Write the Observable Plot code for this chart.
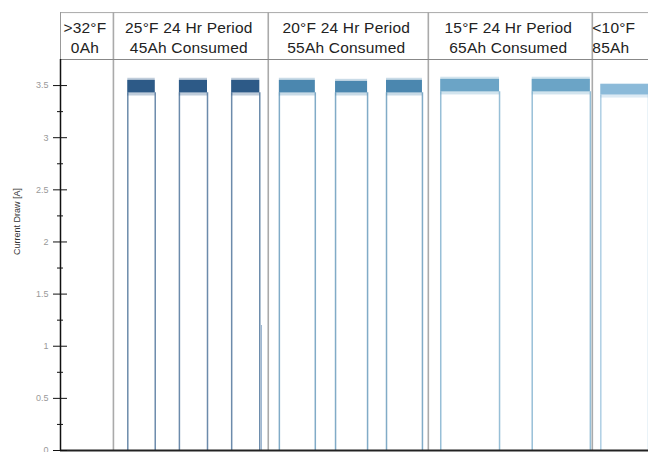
<!DOCTYPE html>
<html>
<head>
<meta charset="utf-8">
<script src="https://cdn.jsdelivr.net/npm/d3@7"></script>
<script src="https://cdn.jsdelivr.net/npm/@observablehq/plot@0.6"></script>
<style>
  html, body { margin: 0; padding: 0; background: #fff; }
  #chart { width: 648px; height: 452px; }
</style>
</head>
<body>
<div id="chart"></div>
<script>
// ---- data (x in hours, y in amperes) ----
const boundaries = [0, 8.1, 31.8, 56.3, 81.4];      // start of each temperature period
const periodTemps = [">32°F", "25°F 24 Hr Period", "20°F 24 Hr Period", "15°F 24 Hr Period", "<10°F"];
const periodAh = ["0Ah", "45Ah Consumed", "55Ah Consumed", "65Ah Consumed", "85Ah"];

const pulseStart  = [10.3, 18.2, 26.2, 33.5, 42.1, 49.9, 58.2, 72.2, 82.7];
const pulseEnd    = [14.5, 22.5, 30.5, 39.0, 47.0, 55.4, 67.2, 81.1, 90.0];
const pulsePeriod = [1, 1, 1, 2, 2, 2, 3, 3, 4];
const pulseLow    = [3.43, 3.43, 3.43, 3.43, 3.43, 3.43, 3.44, 3.44, 3.41];   // dense band bottom
const pulseHigh   = [3.55, 3.55, 3.55, 3.55, 3.54, 3.55, 3.56, 3.56, 3.51];   // dense band top
const noiseLow    = [3.40, 3.40, 3.40, 3.40, 3.40, 3.40, 3.41, 3.41, 3.38];
const noiseHigh   = [3.57, 3.57, 3.57, 3.57, 3.56, 3.57, 3.58, 3.58, 3.52];

const spikeX = [30.75];
const spikeTop = [1.2];

const majorTicks = [0, 0.5, 1, 1.5, 2, 2.5, 3, 3.5];
const minorTicks = [0.25, 0.75, 1.25, 1.75, 2.25, 2.75, 3.25];

const palette = ["#2d5a87", "#4b87af", "#6ba4c6", "#8bbad9"];

// ---- tables ----
const pulses = pulseStart.map((s, i) => ({
  start: s, end: pulseEnd[i], period: pulsePeriod[i],
  low: pulseLow[i], high: pulseHigh[i], nlow: noiseLow[i], nhigh: noiseHigh[i]
}));
const edges = pulses.flatMap(p => [{x: p.start, top: p.low, period: p.period}, {x: p.end, top: p.low, period: p.period}]);
const periods = periodTemps.map((t, i) => ({
  temp: t, ah: periodAh[i],
  x0: boundaries[i], x1: i + 1 < boundaries.length ? boundaries[i + 1] : 90
}));
const spikes = spikeX.map((x, i) => ({x, top: spikeTop[i]}));

const yTop = 3.75;       // top of plotting frame
const headerTop = 4.2;   // top of the header row

const chart = Plot.plot({
  width: 648,
  height: 452,
  marginLeft: 60,
  marginRight: 0,
  marginTop: 59,
  marginBottom: 2,
  x: {domain: [0, 90], axis: null},
  y: {domain: [0, yTop]},
  color: {domain: [1, 2, 3, 4], range: palette},
  style: {fontFamily: "'Liberation Sans', Arial, sans-serif", background: "#fff", overflow: "visible"},
  marks: [
    // period boundaries
    Plot.ruleX(boundaries.slice(1), {y1: 0, y2: headerTop, stroke: "#aaa", strokeWidth: 1.6}),
    // header lines
    Plot.ruleY([yTop], {stroke: "#888", strokeWidth: 1}),
    Plot.ruleY([headerTop], {stroke: "#aaa", strokeWidth: 1}),
    Plot.ruleX([0], {y1: yTop, y2: headerTop, stroke: "#999", strokeWidth: 1}),
    // pulse edges
    Plot.ruleX(edges, {x: "x", y1: 0, y2: "top", stroke: "period", strokeOpacity: 0.7, strokeWidth: 1.5}),
    Plot.ruleX(spikes, {x: "x", y1: 0, y2: "top", stroke: "#9fb7d0", strokeWidth: 1.2}),
    // noisy band
    Plot.rect(pulses, {x1: "start", x2: "end", y1: "nlow", y2: "nhigh", fill: "period", fillOpacity: 0.3}),
    Plot.rect(pulses, {x1: "start", x2: "end", y1: "low", y2: "high", fill: "period"}),
    // baseline and axis line
    Plot.ruleY([0], {stroke: "#222", strokeWidth: 2}),
    Plot.ruleX([0], {y1: 0, y2: yTop, stroke: "#111", strokeWidth: 1.5}),
    // y axis ticks (crossing)
    Plot.axisY(majorTicks, {tickSize: 14, dx: 7, text: null, stroke: "#111", label: null}),
    Plot.axisY(minorTicks, {tickSize: 6, dx: 3, text: null, stroke: "#111", label: null}),
    Plot.axisY(majorTicks, {tickSize: 0, tickPadding: 12, fill: "#999", fontSize: 9, label: null, tickFormat: d => String(d)}),
    // y label
    Plot.text(["Current Draw [A]"], {frameAnchor: "left", dx: -43, rotate: -90, fontSize: 9, fill: "#333"}),
    // header text
    Plot.text(periods.slice(0, 4), {
      x: d => (d.x0 + d.x1) / 2, frameAnchor: "top", lineAnchor: "middle", dy: -23, dx: -2,
      text: d => d.temp + "\n" + d.ah, lineHeight: 1.32, fontSize: 15.5, fill: "#222", textAnchor: "middle"
    }),
    Plot.text(periods.slice(4), {
      x: "x0", frameAnchor: "top", lineAnchor: "middle", dy: -23, dx: 0,
      text: d => d.temp + "\n" + d.ah, lineHeight: 1.32, fontSize: 15.5, fill: "#222", textAnchor: "start"
    })
  ]
});
d3.select(chart).selectAll("g[aria-label='text']").filter((d, i) => i > 0).style("letter-spacing", "0.2px");
document.getElementById("chart").appendChild(chart);
</script>
</body>
</html>
